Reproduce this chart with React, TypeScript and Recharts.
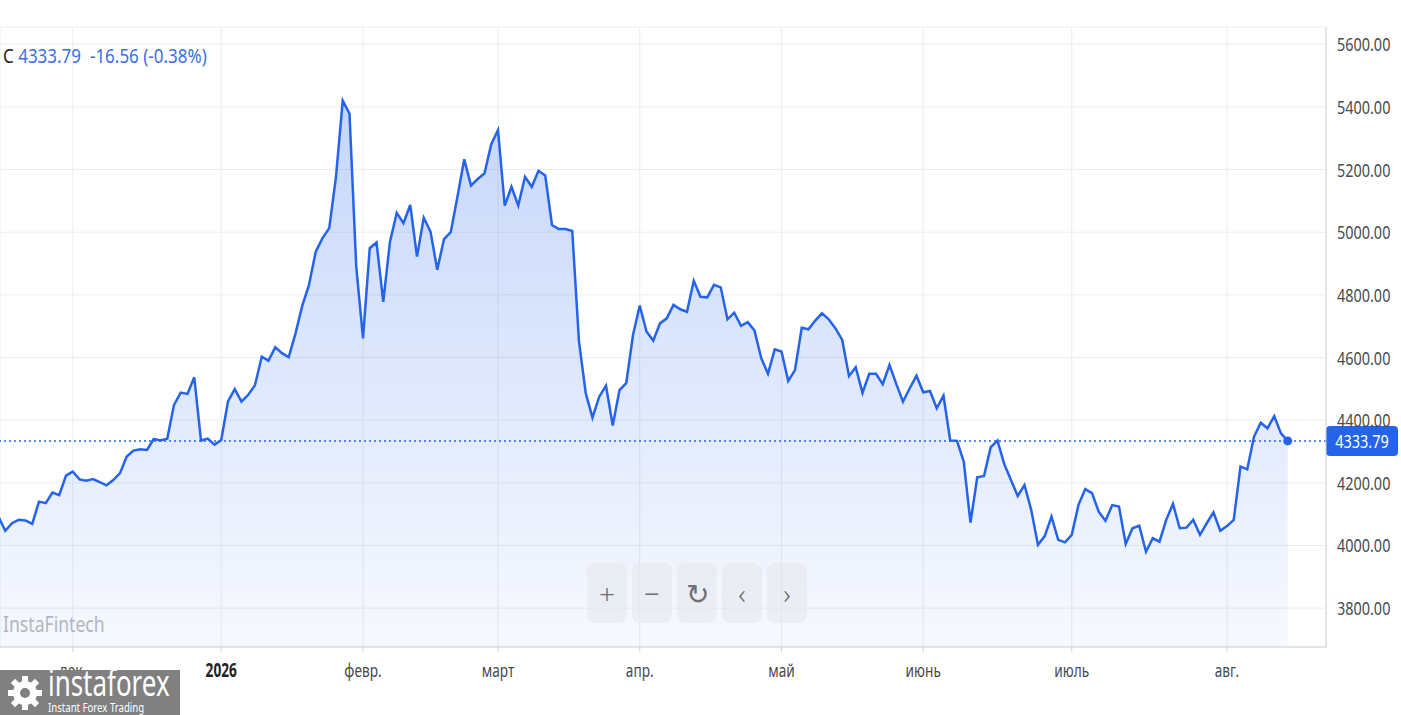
import React from 'react'
import {
  AreaChart,
  Area,
  XAxis,
  YAxis,
  CartesianGrid,
  ReferenceLine,
  ReferenceDot,
} from 'recharts'

// daily closes, one per trading day
const closes = [
  4092, 4047, 4071, 4082, 4080, 4069, 4140, 4135, 4169, 4161,
  4223, 4236, 4211, 4207, 4212, 4202, 4192, 4209, 4231, 4284,
  4303, 4307, 4305, 4340, 4335, 4341, 4449, 4488, 4484, 4537,
  4335, 4341, 4322, 4337, 4460, 4499, 4459, 4481, 4512, 4603,
  4590, 4633, 4614, 4601, 4677, 4765, 4832, 4938, 4981, 5013,
  5177, 5420, 5378, 4890, 4661, 4949, 4967, 4778, 4970, 5062,
  5029, 5087, 4922, 5046, 5002, 4880, 4978, 5000, 5114, 5233,
  5149, 5170, 5188, 5281, 5326, 5085, 5145, 5085, 5177, 5145,
  5196, 5181, 5023, 5010, 5010, 5004, 4651, 4486, 4408, 4475,
  4510, 4383, 4496, 4518, 4672, 4766, 4683, 4654, 4709, 4725,
  4768, 4754, 4746, 4845, 4794, 4792, 4832, 4824, 4722, 4743,
  4701, 4713, 4686, 4598, 4548, 4626, 4619, 4525, 4560, 4695,
  4690, 4718, 4741, 4722, 4693, 4656, 4541, 4569, 4487, 4548,
  4548, 4515, 4576, 4516, 4459, 4502, 4542, 4489, 4493, 4438,
  4478, 4335, 4334, 4268, 4073, 4218, 4222, 4314, 4335, 4260,
  4209, 4158, 4193, 4113, 4002, 4030, 4092, 4018, 4010, 4034,
  4130, 4180, 4167, 4108, 4079, 4129, 4124, 4005, 4055, 4063,
  3980, 4023, 4012, 4082, 4133, 4055, 4057, 4082, 4034, 4071,
  4106, 4047, 4062, 4082, 4252, 4243, 4347, 4392, 4374, 4413,
  4358, 4333.79,
]

const monthTicks = [11, 33, 54, 74, 95, 116, 137, 159, 182]
const monthLabels = ['дек.', '2026', 'февр.', 'март', 'апр.', 'май', 'июнь', 'июль', 'авг.']
const priceTicks = [3800, 4000, 4200, 4400, 4600, 4800, 5000, 5200, 5400, 5600]

const lastClose = 4333.79
const change = -16.56
const changePct = -0.38

const data = closes.map((close, i) => ({ i, close }))

const BLUE = '#2563eb'
const FONT = '"Noto Sans", sans-serif'

const MonthTick = (props: any) => {
  const { x, y, payload } = props
  const label = monthLabels[monthTicks.indexOf(payload.value)]
  const year = /^\d+$/.test(label)
  return (
    <text
      transform={`translate(${x},${y + 23}) scale(0.72,1)`}
      textAnchor="middle"
      fontSize={19}
      fontFamily={FONT}
      fontWeight={year ? 700 : 400}
      fill={year ? '#222' : '#4a4a4a'}
    >
      {label}
    </text>
  )
}

const PriceTick = (props: any) => {
  const { x, y, payload } = props
  return (
    <text
      transform={`translate(${x + 3},${y + 7}) scale(0.76,1)`}
      textAnchor="start"
      fontSize={19}
      fontFamily={FONT}
      fill="#4a4a4a"
    >
      {payload.value.toFixed(2)}
    </text>
  )
}

const PriceTag = (props: any) => {
  const { viewBox } = props
  const x = viewBox.x + viewBox.width
  const y = viewBox.y
  return (
    <g>
      <rect x={x} y={y - 15} width={72} height={30} rx={4} fill={BLUE} />
      <text
        transform={`translate(${x + 36},${y + 7}) scale(0.76,1)`}
        textAnchor="middle"
        fontSize={19}
        fontFamily={FONT}
        fill="#fff"
      >
        {lastClose.toFixed(2)}
      </text>
    </g>
  )
}

const btn: React.CSSProperties = {
  position: 'absolute',
  top: 563,
  width: 40,
  height: 60,
  borderRadius: 8,
  background: 'rgba(228,231,236,0.6)',
  color: '#707070',
  fontSize: 28,
  fontWeight: 300,
  fontFamily: FONT,
  display: 'flex',
  alignItems: 'center',
  justifyContent: 'center',
}

export default function App() {
  return (
    <div
      style={{
        position: 'absolute',
        left: 0,
        top: 0,
        width: 1401,
        height: 715,
        overflow: 'hidden',
        background: '#fff',
        fontFamily: FONT,
      }}
    >
      <AreaChart
        width={1401}
        height={715}
        data={data}
        margin={{ top: 27, right: 0, bottom: 0, left: 0 }}
      >
        <defs>
          <linearGradient id="closeFill" x1="0" y1="0" x2="0" y2="1">
            <stop offset="0%" stopColor={BLUE} stopOpacity={0.26} />
            <stop offset="100%" stopColor={BLUE} stopOpacity={0.04} />
          </linearGradient>
        </defs>
        <CartesianGrid stroke="#ebedf0" />
        <XAxis
          dataKey="i"
          type="number"
          domain={[0.222, 196.67]}
          allowDataOverflow
          ticks={monthTicks}
          interval={0}
          height={68}
          tickSize={5}
          stroke="#cfd4db"
          tick={<MonthTick />}
        />
        <YAxis
          orientation="right"
          width={75}
          domain={[3676, 5655]}
          allowDataOverflow
          ticks={priceTicks}
          interval={0}
          tickLine={false}
          stroke="#cfd4db"
          tick={<PriceTick />}
        />
        <Area
          type="linear"
          dataKey="close"
          stroke={BLUE}
          strokeWidth={2.5}
          fill="url(#closeFill)"
          fillOpacity={1}
          dot={false}
          activeDot={false}
          isAnimationActive={false}
        />
        <ReferenceLine
          y={lastClose}
          stroke={BLUE}
          strokeWidth={1.5}
          strokeDasharray="2 3"
          label={<PriceTag />}
        />
        <ReferenceDot x={closes.length - 1} y={lastClose} r={4.5} fill={BLUE} stroke="none" />
      </AreaChart>

      <div
        style={{
          position: 'absolute',
          left: 3,
          top: 43,
          fontSize: 20,
          whiteSpace: 'pre',
          transform: 'scaleX(0.85)',
          transformOrigin: 'left center',
          lineHeight: '26px',
        }}
      >
        <span style={{ color: '#222' }}>C </span>
        <span style={{ color: '#3b6fe3' }}>
          {lastClose.toFixed(2)}  {change.toFixed(2)} ({changePct.toFixed(2)}%)
        </span>
      </div>

      <div
        style={{
          position: 'absolute',
          left: 3,
          top: 608,
          fontSize: 22,
          color: '#b3b6bc',
          transform: 'scaleX(0.8)',
          transformOrigin: 'left center',
          lineHeight: '30px',
        }}
      >
        InstaFintech
      </div>

      <div style={{ ...btn, left: 587 }}>+</div>
      <div style={{ ...btn, left: 632 }}>−</div>
      <div style={{ ...btn, left: 677 }}>↻</div>
      <div style={{ ...btn, left: 722 }}>‹</div>
      <div style={{ ...btn, left: 767 }}>›</div>

      <div
        style={{
          position: 'absolute',
          left: 0,
          top: 670,
          width: 180,
          height: 45,
          background: '#808080',
          color: '#fff',
        }}
      >
        <svg width={40} height={40} style={{ position: 'absolute', left: 5, top: 3 }}>
          <g fill="#fff">
            {[0, 45, 90, 135, 180, 225, 270, 315].map((a) => (
              <rect key={a} x={17} y={3} width={6} height={8} transform={`rotate(${a} 20 20)`} />
            ))}
            <circle cx={20} cy={20} r={12} />
          </g>
          <circle cx={20} cy={20} r={5} fill="#808080" />
        </svg>
        <div
          style={{
            position: 'absolute',
            left: 48,
            top: -2,
            fontSize: 36,
            lineHeight: '30px',
            transform: 'scaleX(0.72)',
            transformOrigin: 'left center',
          }}
        >
          instaforex
        </div>
        <div
          style={{
            position: 'absolute',
            left: 48,
            top: 31,
            fontSize: 12,
            lineHeight: '13px',
            transform: 'scaleX(0.8)',
            transformOrigin: 'left center',
            whiteSpace: 'nowrap',
          }}
        >
          Instant Forex Trading
        </div>
      </div>
    </div>
  )
}
